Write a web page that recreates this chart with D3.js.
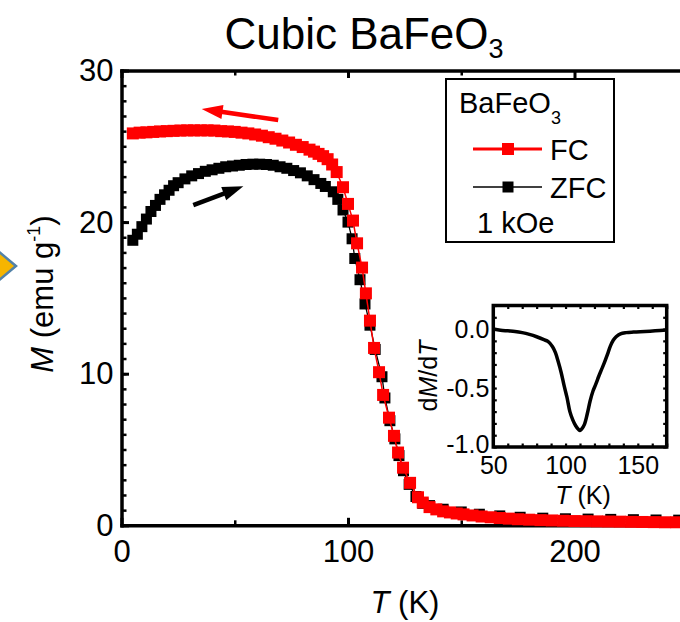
<!DOCTYPE html>
<html>
<head>
<meta charset="utf-8">
<script src="https://cdn.jsdelivr.net/npm/d3@7"></script>
<style>
  html, body { margin: 0; padding: 0; background: #fff; }
  svg { display: block; font-family: "Liberation Sans", Arial, Helvetica, sans-serif; }
</style>
</head>
<body>
<svg id="chart" width="680" height="622"></svg>
<script>
// Field-cooled magnetisation M (emu/g) vs temperature T (K)
const fcT = [5,8,11,14,17,20,23,26,29,32,35,38,41,44,47,50,53,56,59,62,65,68,71,74,77,80,83,85,87,89,
  91,93,95,97.8,100,102.2,104,106.2,107.9,109.7,111.5,113.7,115.5,118.1,120.3,122.1,124.3,127.4,130.9,133,
  136,139,142,145,148,151,155,159,163,167,171,175,180,185,190,195,200,205,210,215,220,225,230,235,240,245,250];
const fcM = [25.85,25.9,25.92,25.95,25.98,26.0,26.02,26.04,26.05,26.05,26.05,26.05,26.04,26.0,25.98,25.95,25.9,25.85,25.78,25.7,
  25.6,25.5,25.38,25.25,25.1,24.95,24.78,24.65,24.5,24.35,24.15,23.8,23.3,22.3,21.2,20.1,18.6,17.0,15.3,13.5,
  11.7,10.1,8.6,7.1,5.9,4.8,3.8,2.8,1.85,1.5,1.2,1.05,0.92,0.85,0.78,0.72,0.65,0.58,0.53,0.48,
  0.44,0.4,0.37,0.34,0.32,0.3,0.28,0.27,0.26,0.25,0.24,0.23,0.22,0.21,0.2,0.2,0.19];

// Zero-field-cooled magnetisation
const zfcT = [5,7,9,11,13,15,17,19,21,23,25,28,31,34,37,40,43,46,49,52,55,58,61,64,67,70,73,76,79,82,85,88,90,
  93.5,95.5,97.8,100,101.8,103,105.3,107.5,109.7,112,115,116.3,118.5,120.7,122.5,124.5,127,130,133,136,
  142,150,158,167,176,186,196,206,216,226,236,246];
const zfcM = [18.8,19.2,19.7,20.2,20.7,21.1,21.5,21.8,22.1,22.4,22.6,22.85,23.05,23.2,23.35,23.45,23.55,23.65,23.7,23.75,
  23.8,23.82,23.82,23.8,23.75,23.65,23.55,23.4,23.25,23.05,22.8,22.55,22.35,
  22.0,21.5,20.8,20.0,18.9,17.6,16.2,14.6,13.2,11.6,9.8,8.4,6.9,5.7,4.6,3.6,2.7,1.9,1.45,1.3,
  1.06,0.88,0.73,0.62,0.53,0.47,0.43,0.41,0.39,0.37,0.35,0.34];

// Derivative dM/dT shown in the inset
const derivT = [50,55,60,65,70,75,80,85,88,91,93,95,97,99,101,103,105,107,109,110,111,113,115,117,119,121,123,125,127,129,131,133,135,138,142,147,155,162,170];
const derivV = [0.0,-0.01,-0.015,-0.02,-0.03,-0.045,-0.065,-0.09,-0.107,-0.15,-0.2,-0.28,-0.37,-0.48,-0.58,-0.70,-0.77,-0.82,-0.852,-0.86,-0.85,-0.81,-0.72,-0.61,-0.525,-0.465,-0.40,-0.34,-0.28,-0.215,-0.145,-0.095,-0.065,-0.04,-0.03,-0.025,-0.02,-0.015,-0.008];

// Axis ticks
const xMajor = [0, 100, 200];
const xMinor = [50, 150, 250];
const yMajor = [0, 10, 20, 30];
const yMinor = d3.range(0, 31);
const insetXMajor = [50, 100, 150];
const insetXMinor = d3.range(50, 171, 10);
const insetYMajor = [-1.0, -0.5, 0.0];
const insetYMinor = d3.range(-10, 3).map(d => d / 10);

// Sweep-direction arrows, in data units [T, M]
const coolArrow = [[69.2, 26.73], [35.4, 27.46]];
const warmArrow = [[31.7, 21.12], [53.8, 22.37]];

const RED = "#ff0000";
const svg = d3.select("#chart");
svg.append("rect").attr("width", 680).attr("height", 622).attr("fill", "#fff");

// edge of the neighbouring panel's marker
svg.append("path")
  .attr("d", "M-32,226 L16,266 L-32,306 Z")
  .attr("fill", "#f6b500").attr("stroke", "#5282a8").attr("stroke-width", 2.5);

const x = d3.scaleLinear().domain([0, 250]).range([121.5, 687.75]);
const y = d3.scaleLinear().domain([0, 30]).range([525.3, 70.5]);

// Title
const title = svg.append("text").attr("x", 364).attr("y", 49).attr("text-anchor", "middle")
  .attr("font-size", 44).attr("fill", "#000");
title.append("tspan").text("Cubic BaFeO");
title.append("tspan").attr("font-size", 27).attr("dy", 9).text("3");

function tidy(g, domainWidth, tickWidth) {
  g.select(".domain").attr("stroke-width", domainWidth).attr("stroke-linecap", "square").attr("stroke", "#000");
  g.selectAll(".tick line").attr("stroke-width", tickWidth).attr("stroke", "#000");
  g.attr("font-family", null).attr("font-size", null);
}

// Main axes
const gAx = svg.append("g");
gAx.append("g").attr("transform", `translate(0,${y(0)})`)
  .call(d3.axisBottom(x).tickValues(xMinor).tickSize(-5).tickSizeOuter(0).tickFormat(""))
  .call(g => g.select(".domain").remove()).call(g => tidy(g, 0, 2.5));
gAx.append("g").attr("transform", `translate(0,${y(0)})`)
  .call(d3.axisBottom(x).tickValues(xMajor).tickSize(-7.5).tickSizeOuter(0).tickPadding(15))
  .call(g => tidy(g, 3.5, 3))
  .call(g => g.selectAll("text").attr("font-size", 31).attr("fill", "#000"));
gAx.append("g").attr("transform", `translate(0,${y(30)})`)
  .call(d3.axisTop(x).tickValues(xMinor).tickSize(-5).tickSizeOuter(0).tickFormat(""))
  .call(g => g.select(".domain").remove()).call(g => tidy(g, 0, 2.5));
gAx.append("g").attr("transform", `translate(0,${y(30)})`)
  .call(d3.axisTop(x).tickValues(xMajor).tickSize(-7.5).tickSizeOuter(0).tickFormat(""))
  .call(g => tidy(g, 3.5, 3));
gAx.append("g").attr("transform", `translate(${x(0)},0)`)
  .call(d3.axisLeft(y).tickValues(yMinor).tickSize(-5).tickSizeOuter(0).tickFormat(""))
  .call(g => g.select(".domain").remove()).call(g => tidy(g, 0, 2.5));
gAx.append("g").attr("transform", `translate(${x(0)},0)`)
  .call(d3.axisLeft(y).tickValues(yMajor).tickSize(-7.5).tickSizeOuter(0).tickPadding(8))
  .call(g => tidy(g, 3.5, 3))
  .call(g => g.selectAll("text").attr("font-size", 31).attr("fill", "#000"));

// Axis titles
const xt = svg.append("text").attr("x", 405).attr("y", 613).attr("text-anchor", "middle").attr("font-size", 31);
xt.append("tspan").attr("font-style", "italic").text("T");
xt.append("tspan").text(" (K)");
const yt = svg.append("text").attr("transform", "translate(53,294) rotate(-90)")
  .attr("text-anchor", "middle").attr("font-size", 31);
yt.append("tspan").attr("font-style", "italic").text("M");
yt.append("tspan").text(" (emu g");
yt.append("tspan").attr("font-size", 18).attr("dy", -13).text("-1");
yt.append("tspan").attr("dy", 13).text(")");

// Data
const line = d3.line().x(d => x(d[0])).y(d => y(d[1]));
const zfc = d3.zip(zfcT, zfcM);
const fc = d3.zip(fcT, fcM);

function series(data, color, size, lw) {
  const g = svg.append("g");
  g.append("path").datum(data).attr("d", line).attr("fill", "none").attr("stroke", color).attr("stroke-width", lw);
  g.selectAll("rect").data(data).join("rect")
    .attr("x", d => x(d[0]) - size / 2).attr("y", d => y(d[1]) - size / 2)
    .attr("width", size).attr("height", size).attr("fill", color);
}
series(zfc, "#000", 11, 1.3);
series(fc, RED, 12, 1.5);

// Arrows
function arrow(pts, color) {
  const x0 = x(pts[0][0]), y0 = y(pts[0][1]), x1 = x(pts[1][0]), y1 = y(pts[1][1]);
  const dx = x1 - x0, dy = y1 - y0, L = Math.hypot(dx, dy), ux = dx / L, uy = dy / L;
  const hl = 21, hw = 7;
  const bx = x1 - ux * hl, by = y1 - uy * hl;
  svg.append("line").attr("x1", x0).attr("y1", y0).attr("x2", bx + ux * 3).attr("y2", by + uy * 3)
    .attr("stroke", color).attr("stroke-width", 4.5);
  svg.append("path")
    .attr("d", `M${x1},${y1}L${bx - uy * hw},${by + ux * hw}L${bx + uy * hw},${by - ux * hw}Z`)
    .attr("fill", color);
}
arrow(coolArrow, RED);
arrow(warmArrow, "#000");

// Legend
const lg = svg.append("g");
lg.append("rect").attr("x", 446).attr("y", 79).attr("width", 168).attr("height", 163)
  .attr("fill", "#fff").attr("stroke", "#000").attr("stroke-width", 2);
const lt = lg.append("text").attr("x", 459).attr("y", 113).attr("font-size", 29);
lt.append("tspan").text("BaFeO");
lt.append("tspan").attr("font-size", 18).attr("dy", 11).text("3");
const legendRows = [
  { label: "FC", color: RED, lw: 3, size: 12, yy: 149 },
  { label: "ZFC", color: "#000", lw: 1.5, size: 11, yy: 187 }
];
legendRows.forEach(r => {
  lg.append("line").attr("x1", 473).attr("x2", 542).attr("y1", r.yy).attr("y2", r.yy)
    .attr("stroke", r.color).attr("stroke-width", r.lw);
  lg.append("rect").attr("x", 508 - r.size / 2).attr("y", r.yy - r.size / 2)
    .attr("width", r.size).attr("height", r.size).attr("fill", r.color);
  lg.append("text").attr("x", 550).attr("y", r.yy + 11).attr("font-size", 29).text(r.label);
});
lg.append("text").attr("x", 477).attr("y", 233).attr("font-size", 29).text("1 kOe");

// Inset: dM/dT
const xi = d3.scaleLinear().domain([50, 170]).range([493.3, 666.7]);
const yi = d3.scaleLinear().domain([-1.0, 0.2]).range([447, 305.5]);
const inset = svg.append("g");
inset.append("rect").attr("x", xi(50)).attr("y", yi(0.2)).attr("width", xi(170) - xi(50)).attr("height", yi(-1) - yi(0.2))
  .attr("fill", "#fff");
const fmt1 = d => d.toFixed(1);
inset.append("g").attr("transform", `translate(0,${yi(-1)})`)
  .call(d3.axisBottom(xi).tickValues(insetXMinor).tickSize(-3.5).tickSizeOuter(0).tickFormat(""))
  .call(g => g.select(".domain").remove()).call(g => tidy(g, 0, 2.2));
inset.append("g").attr("transform", `translate(0,${yi(0.2)})`)
  .call(d3.axisTop(xi).tickValues(insetXMinor).tickSize(-3.5).tickSizeOuter(0).tickFormat(""))
  .call(g => g.select(".domain").remove()).call(g => tidy(g, 0, 2.2));
inset.append("g").attr("transform", `translate(${xi(50)},0)`)
  .call(d3.axisLeft(yi).tickValues(insetYMinor).tickSize(-3.5).tickSizeOuter(0).tickFormat(""))
  .call(g => g.select(".domain").remove()).call(g => tidy(g, 0, 2.2));
inset.append("g").attr("transform", `translate(${xi(170)},0)`)
  .call(d3.axisRight(yi).tickValues(insetYMinor).tickSize(-3.5).tickSizeOuter(0).tickFormat(""))
  .call(g => g.select(".domain").remove()).call(g => tidy(g, 0, 2.2));
inset.append("g").attr("transform", `translate(0,${yi(-1)})`)
  .call(d3.axisBottom(xi).tickValues(insetXMajor).tickSize(0).tickSizeOuter(0).tickPadding(9))
  .call(g => g.select(".domain").remove())
  .call(g => tidy(g, 0, 0))
  .call(g => g.selectAll("text").attr("font-size", 25).attr("fill", "#000"));
inset.append("g").attr("transform", `translate(${xi(50)},0)`)
  .call(d3.axisLeft(yi).tickValues(insetYMajor).tickSize(0).tickSizeOuter(0).tickPadding(4).tickFormat(fmt1))
  .call(g => g.select(".domain").remove())
  .call(g => tidy(g, 0, 0))
  .call(g => g.selectAll("text").attr("font-size", 25).attr("fill", "#000"))
  .call(g => g.selectAll(".tick").filter(d => d === -1.0).select("text").attr("dy", "0.2em"));
inset.append("path").datum(d3.zip(derivT, derivV))
  .attr("d", d3.line().x(d => xi(d[0])).y(d => yi(d[1])).curve(d3.curveCatmullRom.alpha(0.5)))
  .attr("fill", "none").attr("stroke", "#000").attr("stroke-width", 3.5).attr("stroke-linejoin", "round");
inset.append("rect").attr("x", xi(50)).attr("y", yi(0.2)).attr("width", xi(170) - xi(50)).attr("height", yi(-1) - yi(0.2))
  .attr("fill", "none").attr("stroke", "#000").attr("stroke-width", 3.5);

const ixt = inset.append("text").attr("x", 583).attr("y", 504).attr("text-anchor", "middle").attr("font-size", 25);
ixt.append("tspan").attr("font-style", "italic").text("T");
ixt.append("tspan").text(" (K)");
const iyt = inset.append("text").attr("transform", "translate(437,376) rotate(-90)")
  .attr("text-anchor", "middle").attr("font-size", 25);
iyt.append("tspan").text("d");
iyt.append("tspan").attr("font-style", "italic").text("M");
iyt.append("tspan").text("/d");
iyt.append("tspan").attr("font-style", "italic").text("T");
</script>
</body>
</html>
